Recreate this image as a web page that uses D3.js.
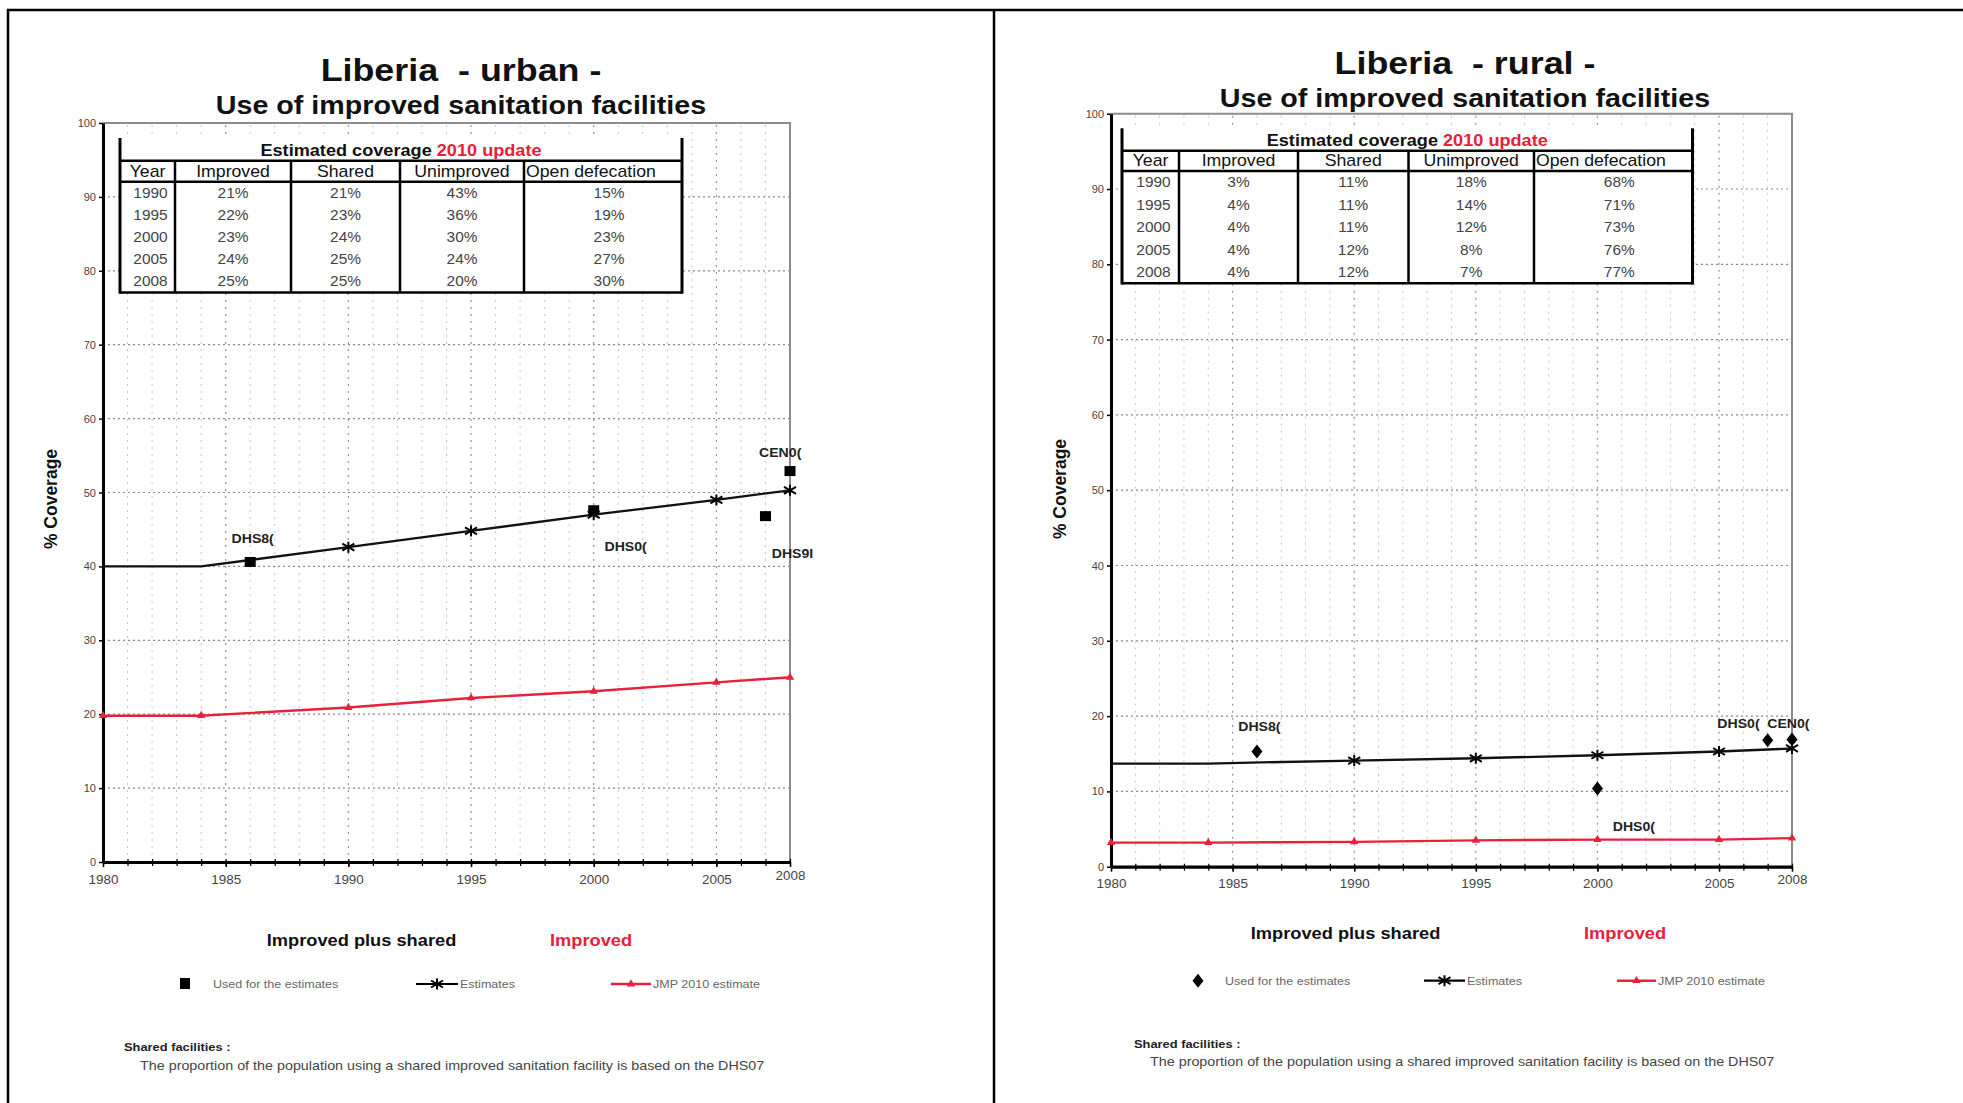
<!DOCTYPE html>
<html><head><meta charset="utf-8">
<script src="https://cdn.jsdelivr.net/npm/d3@7"></script>
<style>
html,body{margin:0;padding:0;background:#fff;}
svg{display:block;}
text{font-family:"Liberation Sans",Arial,sans-serif;white-space:pre;}
</style>
</head><body>
<svg id="chart" width="1963" height="1103"></svg>
<script>
// ---------------- DATA ----------------
const lineYears = [1980, 1984, 1990, 1995, 2000, 2005, 2008];
const urbanEstimates = [40.0, 40.0, 42.6, 44.8, 47.0, 49.0, 50.3];
const urbanImproved  = [19.8, 19.8, 20.9, 22.2, 23.1, 24.3, 25.0];
const ruralEstimates = [13.7, 13.7, 14.1, 14.4, 14.8, 15.3, 15.7];
const ruralImproved  = [3.2, 3.2, 3.3, 3.5, 3.6, 3.6, 3.8];
const estimateMarkerYears = [1990, 1995, 2000, 2005, 2008];

const urbanSurveyYears  = [1986, 2000, 2007, 2008];
const urbanSurveyValues = [40.6, 47.6, 46.8, 52.9];
const urbanSurveyLabels = ["DHS8(", "DHS0(", "DHS9I", "CEN0("];
const urbanLabelYears   = [1986.1, 2001.3, 2008.1, 2007.6];
const urbanLabelValues  = [43.8, 42.7, 41.8, 55.4];

const ruralSurveyYears  = [1986, 2000, 2007, 2008];
const ruralSurveyValues = [15.3, 10.4, 16.8, 16.9];
const ruralSurveyLabels = ["DHS8(", "DHS0(", "DHS0(", "CEN0("];
const ruralLabelYears   = [1986.1, 2001.5, 2005.8, 2007.85];
const ruralLabelValues  = [18.6, 5.3, 19.0, 19.0];

const xTickValues = [1980, 1985, 1990, 1995, 2000, 2005, 2008];
const yTickValues = [0, 10, 20, 30, 40, 50, 60, 70, 80, 90, 100];

const tableHeaders = ["Year", "Improved", "Shared", "Unimproved", "Open defecation"];
const tableYears = ["1990", "1995", "2000", "2005", "2008"];
const urbanTabImproved   = [21, 22, 23, 24, 25];
const urbanTabShared     = [21, 23, 24, 25, 25];
const urbanTabUnimproved = [43, 36, 30, 24, 20];
const urbanTabOpen       = [15, 19, 23, 27, 30];
const ruralTabImproved   = [3, 4, 4, 4, 4];
const ruralTabShared     = [11, 11, 11, 12, 12];
const ruralTabUnimproved = [18, 14, 12, 8, 7];
const ruralTabOpen       = [68, 71, 73, 76, 77];

const footTitle = "Shared facilities :";
const footText = "The proportion of the population using a shared improved sanitation facility is based on the DHS07";

// ---------------- DRAWING ----------------
const RED = "#e8203a";
const SX = 1.12;
const svg = d3.select("#chart");

function txt(g, x, y, s, o) {
  o = o || {};
  const t = g.append("text")
    .attr("transform", `translate(${x},${y}) scale(${o.sx != null ? o.sx : SX},1)`)
    .attr("text-anchor", o.anchor || "start")
    .attr("font-size", o.size || 12)
    .attr("font-weight", o.weight || "normal")
    .attr("fill", o.fill || "#000");
  if (o.dy) t.attr("dy", o.dy);
  if (s != null) t.text(s);
  return t;
}

const asteriskPath = "M0,-5.5L0,5.5M-6,-3.5L6,3.5M-6,3.5L6,-3.5";
const diamondPath = "M0,-7L5.5,0L0,7L-5.5,0Z";
const triangle = d3.symbol(d3.symbolTriangle, 30);

// Outer frame
svg.append("line").attr("x1", 7).attr("x2", 1963).attr("y1", 10).attr("y2", 10).attr("stroke", "#000").attr("stroke-width", 2.5);
svg.append("line").attr("x1", 8).attr("x2", 8).attr("y1", 9).attr("y2", 1103).attr("stroke", "#000").attr("stroke-width", 2.5);
svg.append("line").attr("x1", 994).attr("x2", 994).attr("y1", 9).attr("y2", 1103).attr("stroke", "#000").attr("stroke-width", 2.5);

function drawPanel(cfg) {
  const g = svg.append("g");
  const x = d3.scaleLinear().domain([1980, 2008]).range([cfg.px0, cfg.px1]);
  const y = d3.scaleLinear().domain([0, 100]).range([cfg.py0, cfg.py1]);

  // titles
  txt(g, cfg.titleX, cfg.titleY, cfg.title, {anchor: "middle", size: 32, weight: "bold", fill: "#111"});
  txt(g, cfg.titleX, cfg.subY, "Use of improved sanitation facilities", {anchor: "middle", size: 25.6, weight: "bold", fill: "#111"});

  // gridlines
  const allYears = d3.range(1981, 2008);
  g.append("g").selectAll("line").data(allYears).join("line")
    .attr("x1", d => x(d)).attr("x2", d => x(d))
    .attr("y1", y(0)).attr("y2", y(100))
    .attr("stroke", d => d % 5 === 0 ? "#9a9a9a" : "#c4c4c4")
    .attr("stroke-width", d => d % 5 === 0 ? 1.3 : 1)
    .attr("stroke-dasharray", "2,5");
  g.append("g").selectAll("line").data(yTickValues.filter(v => v > 0 && v < 100)).join("line")
    .attr("x1", x(1980)).attr("x2", x(2008))
    .attr("y1", d => y(d)).attr("y2", d => y(d))
    .attr("stroke", "#8a8a8a").attr("stroke-width", 1.2).attr("stroke-dasharray", "2,3");
  // top & right frame
  g.append("path").attr("d", `M${x(1980)},${y(100)}H${x(2008)}V${y(0)}`)
    .attr("fill", "none").attr("stroke", "#8c8c8c").attr("stroke-width", 2);

  // table
  const T = cfg.table;
  const xs = T.xs;
  const tg = g.append("g");
  tg.append("rect").attr("x", xs[0]).attr("y", T.top).attr("width", xs[5] - xs[0]).attr("height", T.bottom - T.top).attr("fill", "#fff");
  [T.titleLine, T.headerLine, T.bottom].forEach(yy => {
    tg.append("line").attr("x1", xs[0]).attr("x2", xs[5]).attr("y1", yy).attr("y2", yy).attr("stroke", "#000").attr("stroke-width", 2.5);
  });
  [xs[0], xs[5]].forEach(xx => {
    tg.append("line").attr("x1", xx).attr("x2", xx).attr("y1", T.top).attr("y2", T.bottom + 1.2).attr("stroke", "#000").attr("stroke-width", 3);
  });
  xs.slice(1, 5).forEach(xx => {
    tg.append("line").attr("x1", xx).attr("x2", xx).attr("y1", T.titleLine).attr("y2", T.bottom).attr("stroke", "#000").attr("stroke-width", 2.5);
  });
  const tt = txt(tg, (xs[0] + xs[5]) / 2, T.titleLine - 5, null, {anchor: "middle", size: 16.2, weight: "bold", fill: "#111"});
  tt.append("tspan").text("Estimated coverage ");
  tt.append("tspan").attr("fill", RED).text("2010 update");
  tableHeaders.forEach((h, i) => {
    if (i === 4) txt(tg, xs[4] + 2, T.headerLine - 5, h, {size: 15.8, fill: "#111"});
    else txt(tg, (xs[i] + xs[i + 1]) / 2, T.headerLine - 5, h, {anchor: "middle", size: 15.8, fill: "#111"});
  });
  const rowH = (T.bottom - T.headerLine) / tableYears.length;
  const cols = [tableYears, cfg.tab[0].map(v => v + "%"), cfg.tab[1].map(v => v + "%"), cfg.tab[2].map(v => v + "%"), cfg.tab[3].map(v => v + "%")];
  tableYears.forEach((yr, r) => {
    const cy = T.headerLine + rowH * (r + 0.5) + 5;
    cols.forEach((c, i) => {
      const cx = i === 4 ? (xs[4] + xs[5]) / 2 + 6 : (xs[i] + xs[i + 1]) / 2 + (i === 0 ? 3 : 0);
      txt(tg, cx, cy, c[r], {anchor: "middle", size: 13.8, fill: "#444"});
    });
  });

  // axes
  const yAxis = g.append("g").attr("transform", `translate(${x(1980)},0)`)
    .call(d3.axisLeft(y).tickValues(yTickValues).tickSize(4).tickSizeOuter(0).tickPadding(3));
  yAxis.select(".domain").attr("stroke", "#000").attr("stroke-width", 3);
  yAxis.selectAll(".tick line").attr("stroke", "#000").attr("stroke-width", 1.5);
  yAxis.selectAll(".tick text").attr("font-size", 11).attr("fill", "#444")
    .attr("font-family", "Liberation Sans, Arial, sans-serif");

  const xMinor = g.append("g").attr("transform", `translate(0,${y(0)})`)
    .call(d3.axisBottom(x).tickValues(d3.range(1980, 2009)).tickSize(4).tickSizeOuter(0).tickFormat(""));
  xMinor.select(".domain").remove();
  xMinor.selectAll(".tick line").attr("stroke", "#000").attr("stroke-width", 1.2).attr("y1", -3);
  const xAxis = g.append("g").attr("transform", `translate(0,${y(0)})`)
    .call(d3.axisBottom(x).tickValues(xTickValues).tickFormat(d3.format("d")).tickSize(5).tickSizeOuter(0).tickPadding(8));
  xAxis.select(".domain").attr("stroke", "#000").attr("stroke-width", 3.2);
  xAxis.selectAll(".tick line").attr("stroke", "#000").attr("stroke-width", 1.5);
  xAxis.selectAll(".tick text").attr("font-size", 12).attr("fill", "#444")
    .attr("font-family", "Liberation Sans, Arial, sans-serif")
    .attr("transform", d => d === 2008 ? `translate(0,-4) scale(${SX},1)` : `scale(${SX},1)`);

  // y title
  g.append("text").attr("transform", `translate(${cfg.yTitleX},${cfg.yTitleY}) rotate(-90)`)
    .attr("text-anchor", "middle").attr("font-size", 17.5).attr("font-weight", "bold").attr("fill", "#111")
    .text("% Coverage");

  // lines
  const line = d3.line().x(d => x(d[0])).y(d => y(d[1]));
  const estPts = lineYears.map((yr, i) => [yr, cfg.est[i]]);
  const impPts = lineYears.map((yr, i) => [yr, cfg.imp[i]]);
  g.append("path").attr("d", line(impPts)).attr("fill", "none").attr("stroke", RED).attr("stroke-width", 2.4);
  g.append("path").attr("d", line(estPts)).attr("fill", "none").attr("stroke", "#111").attr("stroke-width", 2.3);

  g.append("g").selectAll("path").data(impPts).join("path")
    .attr("d", triangle).attr("transform", d => `translate(${x(d[0])},${y(d[1])})`).attr("fill", RED);

  // survey points
  const sv = cfg.sYears.map((yr, i) => [yr, cfg.sVals[i]]);
  if (cfg.shape === "square") {
    g.append("g").selectAll("rect").data(sv).join("rect")
      .attr("x", d => x(d[0]) - 5.5).attr("y", d => y(d[1]) - 5).attr("width", 11).attr("height", 10).attr("fill", "#000");
  } else {
    g.append("g").selectAll("path").data(sv).join("path")
      .attr("d", diamondPath).attr("transform", d => `translate(${x(d[0])},${y(d[1])})`).attr("fill", "#000");
  }
  const estM = estPts.filter(d => estimateMarkerYears.includes(d[0]));
  g.append("g").selectAll("path").data(estM).join("path")
    .attr("d", asteriskPath).attr("transform", d => `translate(${x(d[0])},${y(d[1])})`)
    .attr("stroke", "#000").attr("stroke-width", 2).attr("fill", "none");

  cfg.lbls.forEach((l, i) => {
    txt(g, x(cfg.lYears[i]), y(cfg.lVals[i]), l, {anchor: "middle", size: 12.6, weight: "bold", fill: "#222", dy: "0.35em"});
  });

  // legend
  const L = cfg.legend;
  txt(g, L.ipsX, L.headY, "Improved plus shared", {anchor: "middle", size: 16.3, weight: "bold", fill: "#111"});
  txt(g, L.impX, L.headY, "Improved", {anchor: "middle", size: 16.3, weight: "bold", fill: RED});
  if (cfg.shape === "square") {
    g.append("rect").attr("x", L.mark - 5).attr("y", L.rowY - 6).attr("width", 10).attr("height", 11).attr("fill", "#000");
  } else {
    g.append("path").attr("d", diamondPath).attr("transform", `translate(${L.mark},${L.rowY})`).attr("fill", "#000");
  }
  txt(g, L.markText, L.rowY, "Used for the estimates", {size: 11.2, fill: "#666", dy: "0.35em"});
  g.append("line").attr("x1", L.est0).attr("x2", L.est1).attr("y1", L.rowY).attr("y2", L.rowY).attr("stroke", "#000").attr("stroke-width", 2.2);
  g.append("path").attr("d", asteriskPath).attr("transform", `translate(${(L.est0 + L.est1) / 2},${L.rowY})`).attr("stroke", "#000").attr("stroke-width", 2);
  txt(g, L.est1 + 2, L.rowY, "Estimates", {size: 11.2, fill: "#666", dy: "0.35em"});
  g.append("line").attr("x1", L.red0).attr("x2", L.red1).attr("y1", L.rowY).attr("y2", L.rowY).attr("stroke", RED).attr("stroke-width", 2.4);
  g.append("path").attr("d", triangle).attr("transform", `translate(${(L.red0 + L.red1) / 2},${L.rowY})`).attr("fill", RED);
  txt(g, L.red1 + 2, L.rowY, "JMP 2010 estimate", {size: 11.2, fill: "#666", dy: "0.35em"});

  // footnote
  txt(g, cfg.foot.x1, cfg.foot.y1, footTitle, {size: 11.5, weight: "bold", fill: "#222"});
  txt(g, cfg.foot.x2, cfg.foot.y2, footText, {size: 12.8, fill: "#444"});
}

drawPanel({
  title: "Liberia  - urban -", titleX: 461, titleY: 80.5, subY: 113.5,
  px0: 103, px1: 790, py0: 862, py1: 123,
  yTitleX: 57, yTitleY: 499,
  table: {xs: [120, 175, 291, 400, 524, 682], top: 138, titleLine: 160.7, headerLine: 181.7, bottom: 292.5},
  tab: [urbanTabImproved, urbanTabShared, urbanTabUnimproved, urbanTabOpen],
  est: urbanEstimates, imp: urbanImproved,
  sYears: urbanSurveyYears, sVals: urbanSurveyValues, shape: "square",
  lbls: urbanSurveyLabels, lYears: urbanLabelYears, lVals: urbanLabelValues,
  legend: {headY: 946, ipsX: 361.5, impX: 591, rowY: 984, mark: 185, markText: 213, est0: 416, est1: 458, red0: 611, red1: 651},
  foot: {x1: 124, y1: 1051, x2: 140, y2: 1070}
});

drawPanel({
  title: "Liberia  - rural -", titleX: 1465, titleY: 73.5, subY: 106.5,
  px0: 1111, px1: 1792, py0: 866.7, py1: 113.7,
  yTitleX: 1066, yTitleY: 489,
  table: {xs: [1122, 1179, 1298, 1408.5, 1534, 1692.5], top: 128.3, titleLine: 150.7, headerLine: 171, bottom: 283.3},
  tab: [ruralTabImproved, ruralTabShared, ruralTabUnimproved, ruralTabOpen],
  est: ruralEstimates, imp: ruralImproved,
  sYears: ruralSurveyYears, sVals: ruralSurveyValues, shape: "diamond",
  lbls: ruralSurveyLabels, lYears: ruralLabelYears, lVals: ruralLabelValues,
  legend: {headY: 939, ipsX: 1345.5, impX: 1625, rowY: 980.7, mark: 1198, markText: 1225, est0: 1424, est1: 1465, red0: 1617, red1: 1656},
  foot: {x1: 1134, y1: 1048, x2: 1150, y2: 1066}
});
</script>
</body></html>
